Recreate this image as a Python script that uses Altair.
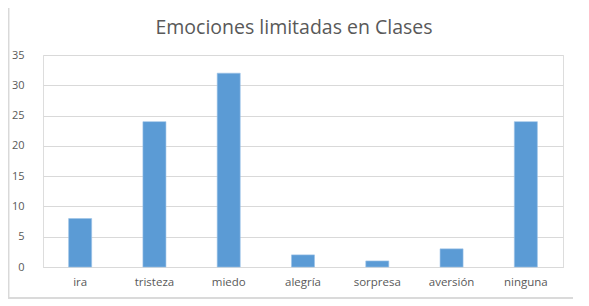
import altair as alt
import pandas as pd

categorias = ["ira", "tristeza", "miedo", "alegría", "sorpresa", "aversión", "ninguna"]
valores = [8, 24, 32, 2, 1, 3, 24]
titulo = "Emociones limitadas en Clases"

df = pd.DataFrame({"emocion": categorias, "valor": valores})

W, H = 520, 212

bars = alt.Chart(df).mark_bar(color="#5b9bd5", stroke="#9cc3e8", strokeWidth=0.6).encode(
    x=alt.X("emocion:N", sort=categorias, title=None,
            scale=alt.Scale(paddingInner=0.69, paddingOuter=0.345),
            axis=alt.Axis(labelAngle=0, ticks=False, domainColor="#d9d9d9", labelColor="#595959",
                          labelFont="Open Sans", labelFontSize=11.5, labelPadding=9, grid=False)),
    y=alt.Y("valor:Q", title=None,
            scale=alt.Scale(domain=[0, 35]),
            axis=alt.Axis(values=[0, 5, 10, 15, 20, 25, 30, 35], domain=False, ticks=False,
                          gridColor="#d9d9d9", labelColor="#595959", labelFont="Open Sans",
                          labelFontSize=11, labelPadding=19)),
)

border = alt.Chart(df).mark_rect(fill=None, stroke="#d9d9d9", strokeWidth=1.2, clip=False).encode(
    x=alt.value(-34.5), x2=alt.value(538), y=alt.value(-50), y2=alt.value(243)
)

title = alt.Chart(pd.DataFrame({"t": [titulo]})).mark_text(
    font="Open Sans", fontSize=19.5, color="#595959", align="center", baseline="middle", clip=False
).encode(text="t:N", x=alt.value(251), y=alt.value(-27))

chart = alt.layer(border, bars, title).properties(
    width=W, height=H,
    padding={"left": 35, "top": 47, "right": 10, "bottom": 40},
    autosize=alt.AutoSizeParams(type="none"),
).configure_view(stroke=None).configure(background="white")

chart.save("out.html", embed_options={"renderer": "svg", "actions": False})
